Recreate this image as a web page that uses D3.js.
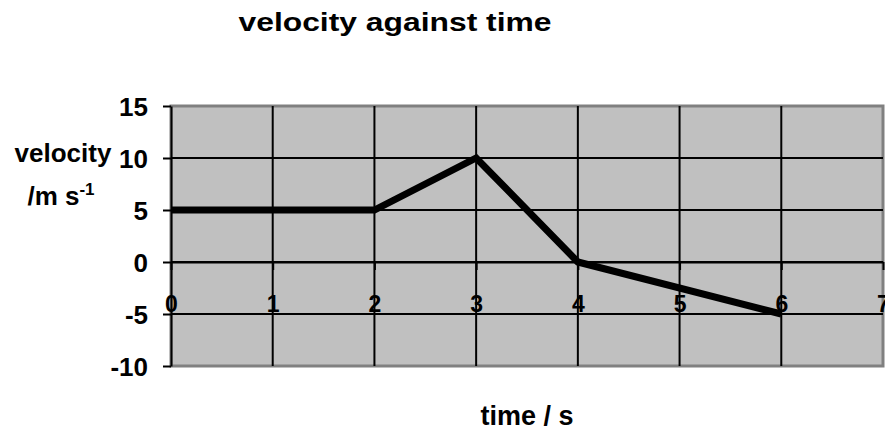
<!DOCTYPE html>
<html>
<head>
<meta charset="utf-8">
<script src="https://cdn.jsdelivr.net/npm/d3@7"></script>
<style>
  body { margin: 0; background: #fff; }
  svg text { font-family: Arial, "Liberation Sans", sans-serif; font-weight: bold; fill: #000; }
</style>
</head>
<body>
<svg width="885" height="431"></svg>
<script>
var times = [0, 2, 3, 4, 6];
var velocities = [5, 5, 10, 0, -5];
var xTicks = [0, 1, 2, 3, 4, 5, 6, 7];
var yTicks = [-10, -5, 0, 5, 10, 15];

var svg = d3.select("svg");
var margin = {top: 106, right: 2, bottom: 65, left: 171};
var width = 885 - margin.left - margin.right;
var height = 431 - margin.top - margin.bottom;

var x = d3.scaleLinear().domain([0, 7]).range([0, width]);
var y = d3.scaleLinear().domain([-10, 15]).range([height, 0]);

var g = svg.append("g").attr("transform", "translate(" + margin.left + "," + margin.top + ")");

// plot background
g.append("rect")
  .attr("width", width)
  .attr("height", height)
  .attr("fill", "#c0c0c0")
  .attr("stroke", "#808080")
  .attr("stroke-width", 3);

// horizontal gridlines
g.append("g")
  .selectAll("line")
  .data(yTicks.slice(1, -1))
  .enter().append("line")
  .attr("x1", 0).attr("x2", width)
  .attr("y1", function(d) { return y(d); })
  .attr("y2", function(d) { return y(d); })
  .attr("stroke", "#000")
  .attr("stroke-width", 2);

// vertical gridlines
g.append("g")
  .selectAll("line")
  .data(xTicks.slice(1, -1))
  .enter().append("line")
  .attr("y1", 0).attr("y2", height)
  .attr("x1", function(d) { return x(d); })
  .attr("x2", function(d) { return x(d); })
  .attr("stroke", "#000")
  .attr("stroke-width", 2);

var plain = function(d) { return String(d); };

// y axis
var yAxis = g.append("g")
  .call(d3.axisLeft(y).tickValues(yTicks).tickFormat(plain).tickSize(8).tickPadding(15).tickSizeOuter(0));
yAxis.select(".domain").attr("stroke", "#000").attr("stroke-width", 2);
yAxis.selectAll(".tick line").attr("stroke", "#000").attr("stroke-width", 2);
yAxis.selectAll(".tick text")
  .attr("font-size", 26)
  .attr("font-family", null)
  .attr("dy", "0.36em");

// x axis sits on zero line, labels just above the -5 line
var xAxis = g.append("g")
  .attr("transform", "translate(0," + y(0) + ")")
  .call(d3.axisBottom(x).tickValues(xTicks).tickFormat(plain).tickSize(8).tickSizeOuter(0));
xAxis.select(".domain").attr("stroke", "#000").attr("stroke-width", 2);
xAxis.selectAll(".tick line").attr("stroke", "#000").attr("stroke-width", 2);
xAxis.selectAll(".tick text")
  .attr("font-size", 23)
  .attr("font-family", null)
  .attr("y", y(-5) - y(0) - 2)
  .attr("dy", null);

// data line
var line = d3.line()
  .x(function(d, i) { return x(times[i]); })
  .y(function(d) { return y(d); });

g.append("path")
  .datum(velocities)
  .attr("d", line)
  .attr("fill", "none")
  .attr("stroke", "#000")
  .attr("stroke-width", 7)
  .attr("stroke-linejoin", "miter");

// title
svg.append("text")
  .attr("x", 395)
  .attr("y", 31)
  .attr("text-anchor", "middle")
  .attr("font-size", 26)
  .attr("textLength", 313)
  .attr("lengthAdjust", "spacingAndGlyphs")
  .text("velocity against time");

// y axis title
svg.append("text")
  .attr("x", 63)
  .attr("y", 162)
  .attr("text-anchor", "middle")
  .attr("font-size", 26)
  .text("velocity");

var unit = svg.append("text")
  .attr("x", 61)
  .attr("y", 205)
  .attr("text-anchor", "middle")
  .attr("font-size", 26)
  .text("/m s");
unit.append("tspan")
  .attr("font-size", 17)
  .attr("dy", -10)
  .text("-1");

// x axis title
svg.append("text")
  .attr("x", 527)
  .attr("y", 425)
  .attr("text-anchor", "middle")
  .attr("font-size", 27)
  .text("time / s");
</script>
</body>
</html>
